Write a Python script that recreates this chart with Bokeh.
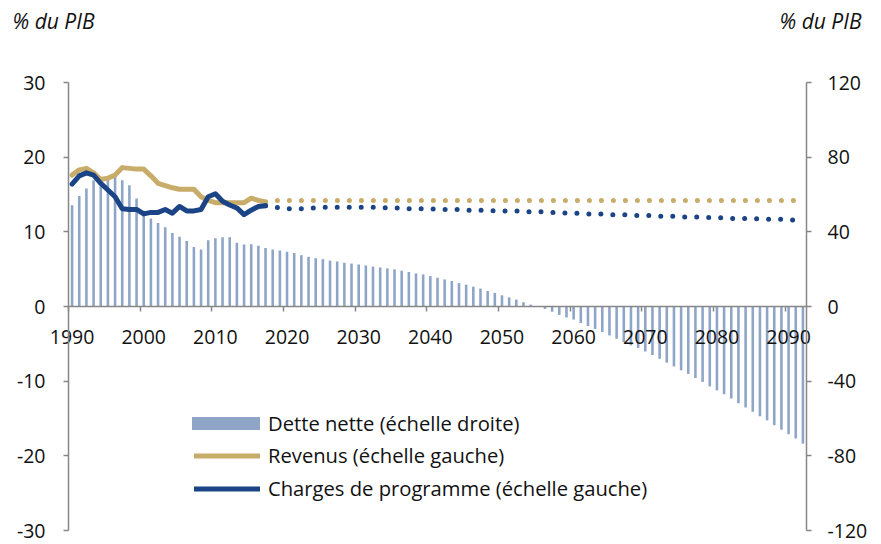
from bokeh.plotting import figure
from bokeh.models import (Range1d, LinearAxis, FixedTicker, Legend, LegendItem,
                          Label, ColumnDataSource)
from bokeh.embed import file_html
from bokeh.resources import INLINE

# ---------------- data ----------------
years = list(range(1990, 2093))

dette_nette = [
    54.3, 59.2, 63.2, 67.6, 68.5, 69.5, 69.5, 67.6, 65.0, 57.8,   # 1990-1999
    51.3, 47.2, 44.7, 42.4, 39.4, 37.4, 35.1, 31.9, 30.5, 35.5,   # 2000-2009
    36.6, 37.1, 37.1, 34.1, 33.2, 33.4, 32.5, 31.4, 30.6, 30.0,   # 2010-2019
    29.3, 28.6, 27.5, 26.6, 25.9, 25.4, 24.6, 24.1, 23.4, 23.0,   # 2020-2029
    22.5, 22.0, 21.4, 20.9, 20.4, 19.9, 19.2, 18.5, 17.7, 17.2,   # 2030-2039
    16.3, 15.4, 14.5, 13.7, 12.6, 11.7, 10.6, 9.6, 8.3, 7.3,      # 2040-2049
    6.0, 4.9, 3.7, 2.3, 1.0, -0.2, -1.3, -2.8, -4.5, -5.9,        # 2050-2059
    -7.0, -8.9, -10.5, -12.0, -13.7, -15.5, -17.3, -19.1, -20.8, -22.2,  # 2060-2069
    -24.1, -26.0, -28.0, -30.1, -32.1, -34.2, -36.1, -38.3, -40.4, -42.8,  # 2070-2079
    -44.9, -47.0, -49.3, -51.8, -54.1, -56.4, -58.8, -61.0, -63.6, -66.0,  # 2080-2089
    -68.4, -70.7, -73.5,                                          # 2090-2092
]

years_hist = list(range(1990, 2018))
revenus_hist = [
    17.6, 18.3, 18.5, 17.9, 17.0, 17.2, 17.6, 18.6, 18.5, 18.4,
    18.4, 17.5, 16.5, 16.2, 15.9, 15.7, 15.7, 15.7, 14.7, 14.2,
    13.9, 13.9, 13.9, 13.9, 13.9, 14.5, 14.2, 14.0,
]
charges_hist = [
    16.4, 17.5, 17.9, 17.6, 16.5, 15.6, 14.7, 13.1, 13.0, 13.0,
    12.4, 12.6, 12.6, 13.0, 12.5, 13.4, 12.8, 12.8, 13.0, 14.7,
    15.1, 14.1, 13.6, 13.2, 12.3, 12.9, 13.4, 13.5,
]

years_proj = list(range(2017, 2093))
revenus_proj = [
    14.0, 14.2, 14.2, 14.2, 14.2, 14.2, 14.2, 14.2, 14.2, 14.2,
    14.2, 14.2, 14.2, 14.2, 14.2, 14.2, 14.2, 14.2, 14.2, 14.2,
    14.2, 14.2, 14.2, 14.2, 14.2, 14.2, 14.2, 14.2, 14.2, 14.2,
    14.2, 14.2, 14.2, 14.2, 14.2, 14.2, 14.2, 14.2, 14.2, 14.2,
    14.2, 14.2, 14.2, 14.2, 14.2, 14.2, 14.2, 14.2, 14.2, 14.2,
    14.2, 14.2, 14.2, 14.2, 14.2, 14.2, 14.2, 14.2, 14.2, 14.2,
    14.2, 14.2, 14.2, 14.2, 14.2, 14.2, 14.2, 14.2, 14.2, 14.2,
    14.2, 14.2, 14.2, 14.2, 14.2, 14.2,
]
charges_proj = [
    13.5, 13.4, 13.2, 13.1, 13.1, 13.1, 13.2, 13.2, 13.3, 13.3,   # 2017-2026
    13.3, 13.3, 13.3, 13.3, 13.3, 13.3, 13.3, 13.2, 13.2, 13.2,   # 2027-2036
    13.1, 13.1, 13.1, 13.1, 13.0, 13.0, 13.0, 13.0, 12.9, 12.9,   # 2037-2046
    12.9, 12.9, 12.8, 12.8, 12.8, 12.8, 12.7, 12.7, 12.7, 12.7,   # 2047-2056
    12.6, 12.6, 12.5, 12.5, 12.5, 12.4, 12.4, 12.4, 12.3, 12.3,   # 2057-2066
    12.3, 12.2, 12.2, 12.2, 12.2, 12.1, 12.1, 12.1, 12.0, 12.0,   # 2067-2076
    12.0, 12.0, 11.9, 11.9, 11.9, 11.8, 11.8, 11.8, 11.8, 11.7,   # 2077-2086
    11.7, 11.7, 11.7, 11.6, 11.6, 11.6,                           # 2087-2092
]

left_ticks = [-30, -20, -10, 0, 10, 20, 30]
right_ticks = [-120, -80, -40, 0, 40, 80, 120]
x_label_years = [1990, 2000, 2010, 2020, 2030, 2040, 2050, 2060, 2070, 2080, 2090]
x_tick_marks = [1989.5, 1999.5, 2009.5, 2019.5, 2029.5, 2039.5, 2049.5,
                2059.5, 2069.5, 2079.5, 2089.5]
unit_label = "% du PIB"

# ---------------- layout / style ----------------
W, H = 881, 544
FL, FR, FT, FB = 68, 806, 82, 530          # pixel box of the plotted area
BAR = "#8EA5C8"
GOLD = "#C8AC6A"
NAVY = "#1B4486"
AXIS = "#878787"
FONT = "Open Sans"
FS = "19.5px"
FS_LEG = "20.2px"
FS_TITLE = "21px"

# ranges chosen so that the canvas-wide frame maps the axis box onto FL..FR / FT..FB
xmin_cat, xmax_cat = years[0] - 0.5, years[-1] + 0.5
px_x = (FR - FL) / (xmax_cat - xmin_cat)
x_start = xmin_cat - FL / px_x
x_end = x_start + W / px_x
lmin, lmax = left_ticks[0], left_ticks[-1]
rmin, rmax = right_ticks[0], right_ticks[-1]
px_y = (FB - FT) / (lmax - lmin)
y_end = lmax + FT / px_y
y_start = y_end - H / px_y
k = (rmax - rmin) / (lmax - lmin)

p = figure(width=W, height=H, output_backend="svg", toolbar_location=None,
           x_range=Range1d(x_start, x_end), y_range=Range1d(y_start, y_end),
           x_axis_location=None, y_axis_location=None,
           min_border=0, min_border_left=0, min_border_right=0,
           min_border_top=0, min_border_bottom=0)
p.extra_y_ranges = {"right": Range1d(y_start * k, y_end * k)}
p.outline_line_color = None
p.xgrid.visible = False
p.ygrid.visible = False
p.background_fill_color = "white"
p.border_fill_color = "white"


def style_axis(ax):
    ax.axis_line_color = AXIS
    ax.axis_line_width = 1.5
    ax.major_tick_line_color = AXIS
    ax.major_tick_line_width = 1.5
    ax.minor_tick_line_color = AXIS
    ax.minor_tick_line_width = 1.5
    ax.major_label_text_font = FONT
    ax.major_label_text_font_size = FS
    ax.major_label_text_color = "#111111"


left = LinearAxis(ticker=FixedTicker(ticks=left_ticks),
                  major_label_overrides={t: str(t) for t in left_ticks},
                  fixed_location=xmin_cat, bounds=(lmin, lmax))
style_axis(left)
left.major_tick_out = 5
left.major_tick_in = 0
left.major_label_standoff = 18
p.add_layout(left, "left")

right = LinearAxis(y_range_name="right", ticker=FixedTicker(ticks=right_ticks),
                   major_label_overrides={t: str(t) for t in right_ticks},
                   fixed_location=xmax_cat, bounds=(rmin, rmax))
style_axis(right)
right.major_tick_out = 5
right.major_tick_in = 0
right.major_label_standoff = 16
p.add_layout(right, "right")

bottom = LinearAxis(ticker=FixedTicker(ticks=x_label_years, minor_ticks=x_tick_marks),
                    major_label_overrides={t: str(t) for t in x_label_years},
                    fixed_location=0, bounds=(xmin_cat, xmax_cat))
style_axis(bottom)
bottom.major_tick_out = 0
bottom.major_tick_in = 0
bottom.minor_tick_out = 5
bottom.minor_tick_in = 0
bottom.major_label_standoff = 18
p.add_layout(bottom, "below")

src = ColumnDataSource(dict(x=years, top=dette_nette))
bars = p.vbar(x="x", top="top", bottom=0, width=0.36, source=src,
              fill_color=BAR, line_color=None, y_range_name="right")

rev_line = p.line(years_hist, revenus_hist, line_color=GOLD, line_width=5,
                  line_cap="round", line_join="round")
p.line(years_proj, revenus_proj, line_color=GOLD, line_width=5,
       line_cap="round", line_dash="0 12")
chg_line = p.line(years_hist, charges_hist, line_color=NAVY, line_width=5,
                  line_cap="round", line_join="round")
p.line(years_proj, charges_proj, line_color=NAVY, line_width=5,
       line_cap="round", line_dash="0 12")

common = dict(padding=0, margin=0, label_text_font=FONT, label_text_font_size=FS_LEG,
              label_text_color="#111111", border_line_alpha=0,
              background_fill_alpha=0)

legend_bar = Legend(items=[
    LegendItem(label="Dette nette (échelle droite)", renderers=[bars]),
], location=(183, H - 437), glyph_width=85, glyph_height=16, label_height=16,
    label_standoff=0, **common)
p.add_layout(legend_bar, "center")

legend_lines = Legend(items=[
    LegendItem(label="Revenus (échelle gauche)", renderers=[rev_line]),
    LegendItem(label="Charges de programme (échelle gauche)", renderers=[chg_line]),
], location=(194, H - 502), glyph_width=66, glyph_height=27, label_height=27,
    spacing=5, label_standoff=8, **common)
p.add_layout(legend_lines, "center")

for sx_px, align in ((12, "left"), (861, "right")):
    p.add_layout(Label(x=x_start + sx_px / px_x, y=y_end - 20 / px_y,
                       text=unit_label, text_align=align,
                       text_baseline="middle", text_font=FONT,
                       text_font_size=FS_TITLE, text_font_style="italic",
                       text_color="#111111"))

open("out.html", "w").write(file_html(p, INLINE))
